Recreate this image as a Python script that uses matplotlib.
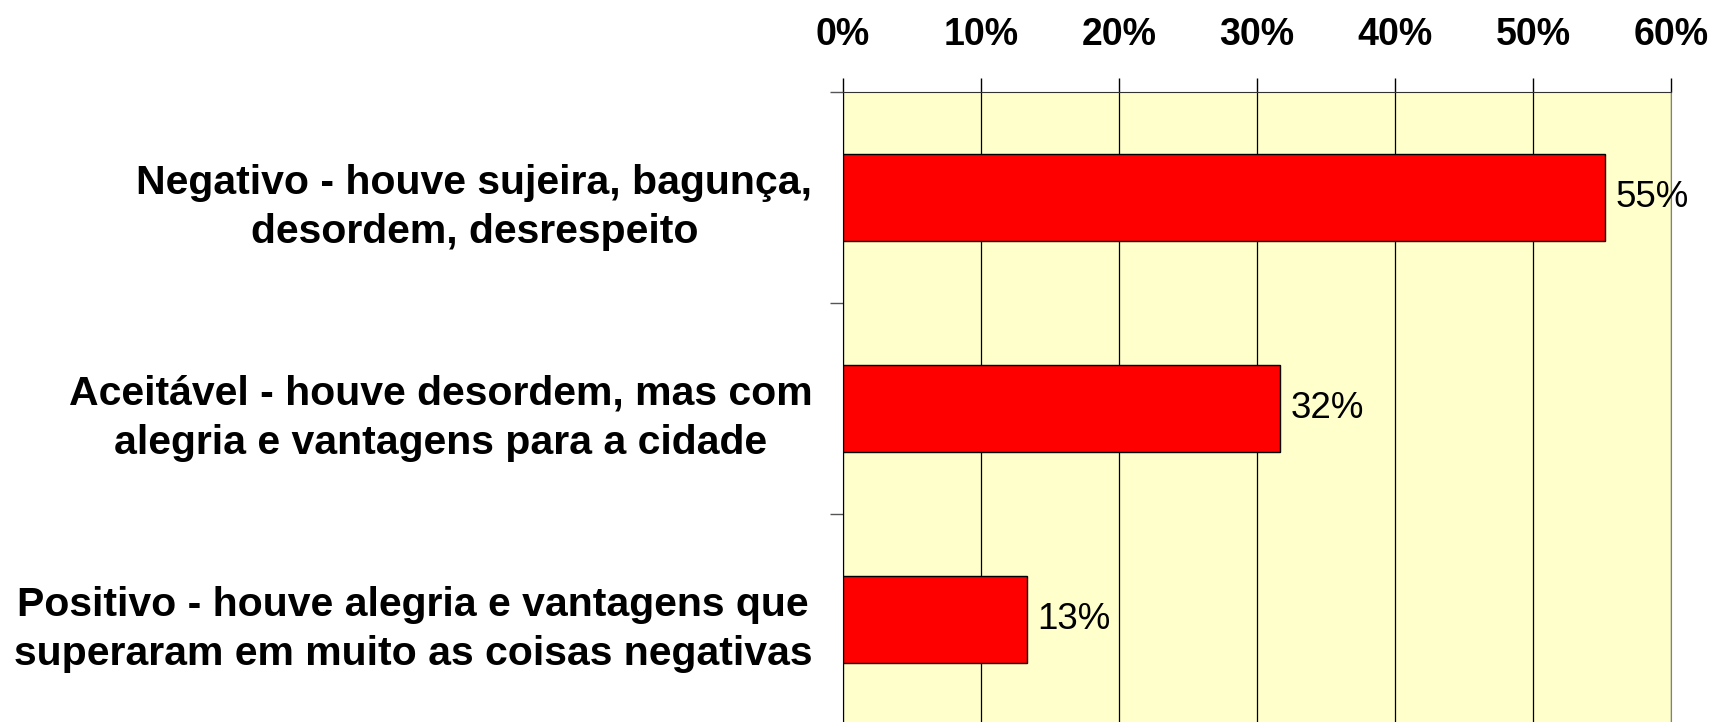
import matplotlib
matplotlib.use('Agg')
import matplotlib.pyplot as plt
import numpy as np

categorias = ['Negativo - houve sujeira, bagunça,\ndesordem, desrespeito',
              'Aceitável - houve desordem, mas com\nalegria e vantagens para a cidade',
              'Positivo - houve alegria e vantagens que\nsuperaram em muito as coisas negativas']
valores = [55.2, 31.7, 13.3]
ticks_x = [0, 10, 20, 30, 40, 50, 60]

plt.rcParams['font.family'] = ['Liberation Sans', 'DejaVu Sans']

fig = plt.figure(figsize=(17.18, 7.22), dpi=100)
ax = fig.add_axes([843/1718, -3/722, 828/1718, 633/722])
ax.set_facecolor('#FFFFCC')

y = np.arange(len(categorias))
ax.barh(y, valores, height=0.41, color='#FF0000', edgecolor='black', linewidth=1, zorder=3)
for yi, v in zip(y, valores):
    ax.text(v + 0.75, yi, '%.0f%%' % v, va='center', ha='left', fontsize=26.5, zorder=4)

ax.set_xlim(0, 60)
ax.set_ylim(2.5, -0.5)

# eixo x em cima
ax.xaxis.tick_top()
ax.set_xticks(ticks_x)
ax.set_xticklabels(['%d%%' % t for t in ticks_x], fontsize=27, fontweight='bold')
ax.tick_params(axis='x', direction='out', length=10, width=1, pad=18)
ax.grid(axis='x', color='black', linewidth=0.9, zorder=1)

# categorias no eixo y
ax.set_yticks(y)
ax.set_yticklabels(categorias, fontsize=29.5, fontweight='bold', ha='right',
                   multialignment='center', linespacing=1.38)
ax.tick_params(axis='y', which='major', length=0, pad=22)
ax.set_yticks([-0.5, 0.5, 1.5], minor=True)
ax.tick_params(axis='y', which='minor', direction='out', length=9.5, width=1, color='#555555')

ax.spines['left'].set_color('black')
ax.spines['top'].set_color('#333333')
ax.spines['right'].set_color('#808080')
ax.spines['bottom'].set_visible(False)

plt.savefig('out.png', dpi=100)
